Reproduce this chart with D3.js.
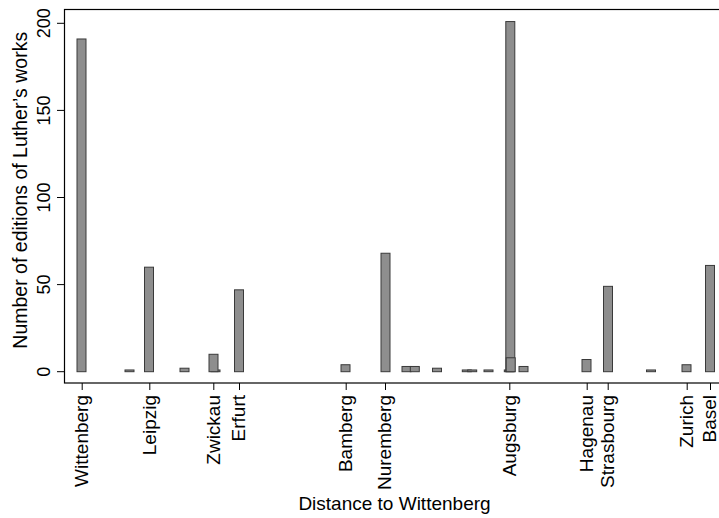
<!DOCTYPE html>
<html>
<head>
<meta charset="utf-8">
<script src="https://cdn.jsdelivr.net/npm/d3@7"></script>
<style>
    html, body { margin: 0; padding: 0; background: #fff; }
    svg { display: block; font-family: 'Liberation Sans', Arial, Helvetica, sans-serif; }
</style>
</head>
<body>
<svg id="chart" width="719" height="518"></svg>
<script>
'use strict';

// distance to Wittenberg (km) and number of editions printed there
var distances = [0, 48, 67.5, 103, 134, 132, 157.5, 264, 304, 325, 333.3, 355.5,
    385.3, 390.7, 407, 427.3, 428.8, 429.2, 442, 505, 526.5, 569.5, 605, 628.5];
var editions = [191, 1, 60, 2, 1, 10, 47, 4, 68, 3, 3, 2,
    1, 1, 1, 1, 201, 8, 3, 7, 49, 1, 4, 61];

var tickCities = ['Wittenberg', 'Leipzig', 'Zwickau', 'Erfurt', 'Bamberg', 'Nuremberg',
    'Augsburg', 'Hagenau', 'Strasbourg', 'Zurich', 'Basel'];
var tickDistances = [0.2, 67.8, 131.8, 157.5, 264.2, 303.5, 427.8, 505.2, 526.2, 605.2, 628.5];
var yTicks = [0, 50, 100, 150, 200];

var svg = d3.select('#chart');

var frame = {left: 64.5, top: 9.5, right: 730, bottom: 383};
var barWidth = 9;

var x = d3.scaleLinear()
    .domain([0, 628.5])
    .range([81.5, 710]);

var y = d3.scaleLinear()
    .domain([0, 200])
    .range([371.7, 23.3]);

var bars = distances.map(function(d, i) {
    return {dist: d, n: editions[i]};
});

// plot region border
svg.append('rect')
    .attr('x', frame.left)
    .attr('y', frame.top)
    .attr('width', frame.right - frame.left)
    .attr('height', frame.bottom - frame.top)
    .style('fill', 'none')
    .style('stroke', '#000')
    .style('stroke-width', 1.2);

svg.append('g')
    .attr('class', 'bars')
    .selectAll('rect.bar')
        .data(bars)
    .enter().append('rect')
        .attr('class', 'bar')
        .attr('x', function(d) { return x(d.dist - barWidth / 2); })
        .attr('width', function(d) { return x(d.dist + barWidth / 2) - x(d.dist - barWidth / 2); })
        .attr('y', function(d) { return y(d.n); })
        .attr('height', function(d) { return y(0) - y(d.n); })
        .style('fill', '#8e8e8e')
        .style('stroke', '#3a3a3a')
        .style('stroke-width', 1);

// y axis
var yAxis = d3.axisLeft(y)
    .tickValues(yTicks)
    .tickSize(7.5)
    .tickPadding(6)
    .tickFormat(d3.format('d'));

var yg = svg.append('g')
    .attr('transform', 'translate(' + frame.left + ',0)')
    .call(yAxis);
yg.select('.domain').remove();
yg.selectAll('line').style('stroke', '#000');
yg.selectAll('text')
    .attr('x', null)
    .attr('dy', null)
    .attr('transform', function(d) { return 'translate(50,' + y(d) + ') rotate(-90)'; })
    .style('text-anchor', 'middle')
    .style('font-size', '18px')
    .style('fill', '#000');
yg.attr('font-family', null).attr('font-size', null);
yg.selectAll('.tick').attr('transform', function(d) { return 'translate(0,' + y(d) + ')'; });
yg.selectAll('.tick text').attr('transform', 'translate(' + (50 - frame.left) + ',0) rotate(-90)');

// x axis
var xAxis = d3.axisBottom(x)
    .tickValues(tickDistances)
    .tickSize(7)
    .tickFormat(function(d, i) { return tickCities[i]; });

var xg = svg.append('g')
    .attr('transform', 'translate(0,' + frame.bottom + ')')
    .call(xAxis);
xg.select('.domain').remove();
xg.attr('font-family', null).attr('font-size', null);
xg.selectAll('line').style('stroke', '#000');
xg.selectAll('.tick text')
    .attr('y', null)
    .attr('dy', '0.3em')
    .attr('transform', 'translate(0,12) rotate(-90)')
    .style('text-anchor', 'end')
    .style('font-size', '19px')
    .style('fill', '#000');

// axis titles
svg.append('text')
    .attr('transform', 'translate(27,' + ((frame.top + frame.bottom) / 2 - 6) + ') rotate(-90)')
    .style('text-anchor', 'middle')
    .style('font-size', '19.5px')
    .text('Number of editions of Luther\u2019s works');

svg.append('text')
    .attr('x', 394.5)
    .attr('y', 510)
    .style('text-anchor', 'middle')
    .style('font-size', '19px')
    .text('Distance to Wittenberg');
</script>
</body>
</html>
